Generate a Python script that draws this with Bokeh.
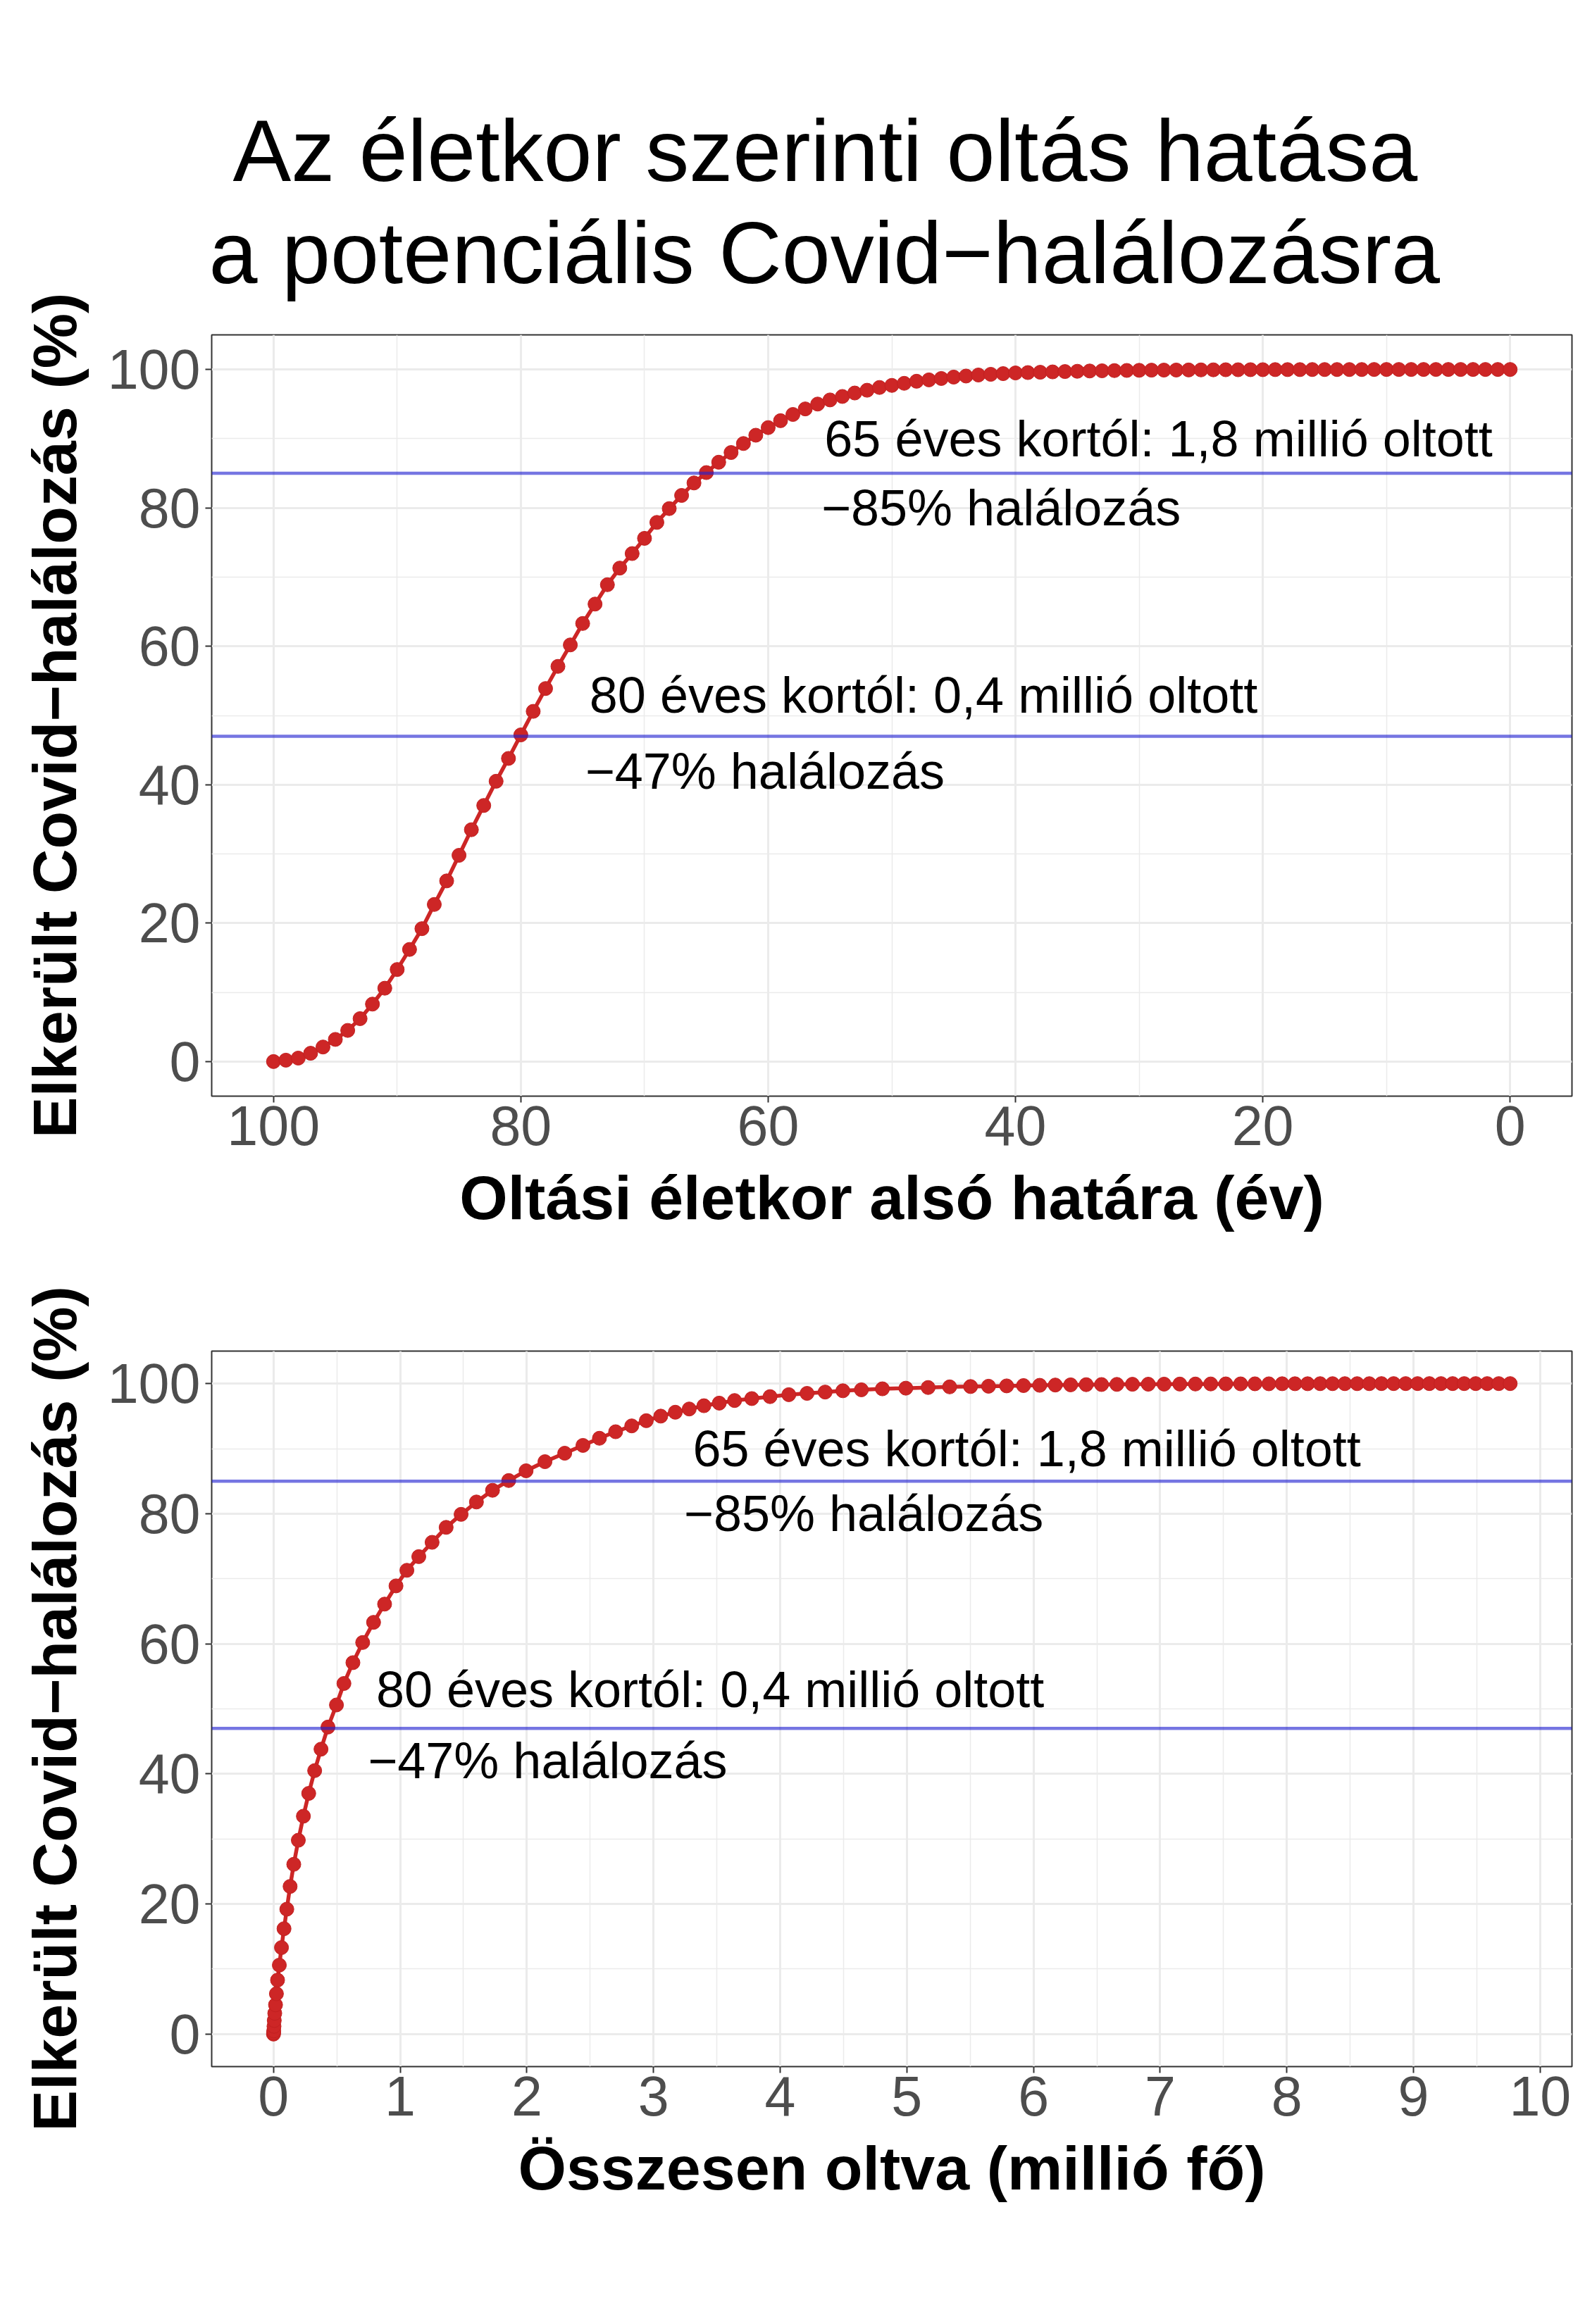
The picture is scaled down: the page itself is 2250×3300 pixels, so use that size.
from bokeh.plotting import figure
from bokeh.models import Range1d, Span, Title, FixedTicker, Label
from bokeh.layouts import column
from bokeh.embed import file_html
from bokeh.resources import INLINE

# ---------------- data ----------------
ages = list(range(100, -1, -1))  # lower age limit of vaccination, 100 .. 0

avoided_pct = [
    0.0, 0.2, 0.5, 1.2, 2.1, 3.2, 4.5, 6.2, 8.3, 10.6,            # 100..91
    13.3, 16.2, 19.2, 22.7, 26.1, 29.8, 33.5, 37.0, 40.5, 43.8,   # 90..81
    47.2, 50.6, 53.9, 57.1, 60.2, 63.3, 66.1, 68.9, 71.3, 73.4,   # 80..71
    75.6, 77.9, 79.9, 81.8, 83.6, 85.1, 86.6, 88.0, 89.3, 90.5,   # 70..61
    91.6, 92.6, 93.5, 94.3, 95.0, 95.6, 96.1, 96.6, 97.0, 97.4,   # 60..51
    97.7, 98.0, 98.3, 98.5, 98.7, 98.9, 99.05, 99.2, 99.3, 99.4,  # 50..41
    99.5, 99.55, 99.6, 99.65, 99.7, 99.74, 99.78, 99.81, 99.84, 99.86,  # 40..31
    99.88, 99.9, 99.91, 99.92, 99.93, 99.94, 99.95, 99.96, 99.96, 99.97,  # 30..21
    99.97, 99.98, 99.98, 99.98, 99.99, 99.99, 99.99, 99.99, 99.99, 100.0,  # 20..11
    100.0, 100.0, 100.0, 100.0, 100.0, 100.0, 100.0, 100.0, 100.0, 100.0,  # 10..1
    100.0,                                                         # 0
]

vaccinated_mln = [
    0.000, 0.001, 0.002, 0.004, 0.006, 0.010, 0.016, 0.023, 0.032, 0.046,  # 100..91
    0.063, 0.083, 0.105, 0.131, 0.160, 0.196, 0.236, 0.278, 0.325, 0.375,  # 90..81
    0.430, 0.497, 0.556, 0.627, 0.704, 0.790, 0.877, 0.967, 1.053, 1.147,  # 80..71
    1.252, 1.363, 1.481, 1.602, 1.729, 1.857, 1.994, 2.143, 2.299, 2.443,  # 70..61
    2.573, 2.701, 2.828, 2.943, 3.057, 3.172, 3.282, 3.398, 3.519, 3.640,  # 60..51
    3.776, 3.920, 4.068, 4.212, 4.355, 4.495, 4.641, 4.807, 4.992, 5.168,  # 50..41
    5.338, 5.503, 5.645, 5.788, 5.921, 6.049, 6.172, 6.293, 6.416, 6.537,  # 40..31
    6.658, 6.781, 6.906, 7.031, 7.155, 7.278, 7.399, 7.518, 7.635, 7.748,  # 30..21
    7.858, 7.963, 8.064, 8.164, 8.263, 8.361, 8.458, 8.555, 8.651, 8.747,  # 20..11
    8.843, 8.938, 9.032, 9.125, 9.217, 9.309, 9.400, 9.491, 9.582, 9.673,  # 10..1
    9.763,                                                                  # 0
]

reference_levels = [85, 47]

y_ticks = [0, 20, 40, 60, 80, 100]
y_minor = [10, 30, 50, 70, 90]
age_ticks = [100, 80, 60, 40, 20, 0]
age_minor = [90, 70, 50, 30, 10]
mln_ticks = [0, 1, 2, 3, 4, 5, 6, 7, 8, 9, 10]
mln_minor = [0.5, 1.5, 2.5, 3.5, 4.5, 5.5, 6.5, 7.5, 8.5, 9.5]

title_line1 = "Az életkor szerinti oltás hatása"
title_line2 = "a potenciális Covid\u2212halálozásra"
y_label = "Elkerült Covid\u2212halálozás (%)"
x_label_top = "Oltási életkor alsó határa (év)"
x_label_bottom = "Összesen oltva (millió fő)"
note65 = "65 éves kortól: 1,8 millió oltott"
note65b = "\u221285% halálozás"
note80 = "80 éves kortól: 0,4 millió oltott"
note80b = "\u221247% halálozás"

# ---------------- styling ----------------
FONT = "Liberation Sans"
RED = "#CD2626"
BLUE = "#2020D0"
GRID = "#EBEBEB"


def style(p, xt, xm, xlabel):
    p.background_fill_color = "white"
    p.border_fill_color = "white"
    p.outline_line_color = "#333333"
    p.outline_line_width = 2
    p.xaxis.ticker = FixedTicker(ticks=xt, minor_ticks=xm)
    p.yaxis.ticker = FixedTicker(ticks=y_ticks, minor_ticks=y_minor)
    p.xaxis.axis_label = xlabel
    p.yaxis.axis_label = y_label
    for ax in (p.xaxis[0], p.yaxis[0]):
        ax.axis_line_color = None
        ax.major_tick_line_color = "#333333"
        ax.major_tick_line_width = 2
        ax.major_tick_out = 9
        ax.major_tick_in = 0
        ax.minor_tick_line_color = None
        ax.major_label_text_font = FONT
        ax.major_label_text_font_size = "79px"
        ax.major_label_text_color = "#4D4D4D"
        ax.axis_label_text_font = FONT
        ax.axis_label_text_font_size = "88px"
        ax.axis_label_text_font_style = "bold"
        ax.axis_label_text_color = "black"
    p.xaxis.major_label_standoff = 5
    p.xaxis.axis_label_standoff = 22
    p.yaxis.major_label_standoff = 7
    p.yaxis.axis_label_standoff = 23
    for g in (p.xgrid[0], p.ygrid[0]):
        g.grid_line_color = GRID
        g.grid_line_width = 3
        g.minor_grid_line_color = GRID
        g.minor_grid_line_width = 1.5


def note(p, x, y, text):
    p.add_layout(Label(x=x, y=y, text=text, text_font=FONT, text_font_size="72px",
                       text_color="black", text_align="left", text_baseline="middle"))


def draw(p, xs):
    p.line(xs, avoided_pct, line_color=RED, line_width=5.5)
    p.scatter(xs, avoided_pct, size=20, fill_color=RED, line_color="#C22020", line_width=1)
    for lvl in reference_levels:
        p.add_layout(Span(location=lvl, dimension="width", line_color=BLUE,
                          line_alpha=0.62, line_width=4.5))


# ---------------- top panel: by age ----------------
p1 = figure(frame_width=1931, frame_height=1081,
            min_border_left=300, min_border_right=3,
            min_border_top=475, min_border_bottom=224,
            x_range=Range1d(105, -5), y_range=Range1d(-5, 105),
            output_backend="svg", toolbar_location=None)
style(p1, age_ticks, age_minor, x_label_top)
draw(p1, ages)
note(p1, 55.45, 90, note65)
note(p1, 55.7, 80, note65b)
note(p1, 74.45, 53, note80)
note(p1, 74.8, 42, note80b)

t2 = Title(text=title_line2, align="left", offset=-4, standoff=96,
           text_font=FONT, text_font_size="124px", text_font_style="normal",
           text_color="black")
t1 = Title(text=title_line1, align="left", offset=30, standoff=-86,
           text_font=FONT, text_font_size="124px", text_font_style="normal",
           text_color="black")
p1.add_layout(t2, "above")
p1.add_layout(t1, "above")

# ---------------- bottom panel: by number vaccinated ----------------
p2 = figure(frame_width=1931, frame_height=1016,
            min_border_left=300, min_border_right=3,
            min_border_top=138, min_border_bottom=240,
            x_range=Range1d(-0.488, 10.251), y_range=Range1d(-5, 105),
            output_backend="svg", toolbar_location=None)
style(p2, mln_ticks, mln_minor, x_label_bottom)
draw(p2, vaccinated_mln)
note(p2, 3.31, 90, note65)
note(p2, 3.24, 80, note65b)
note(p2, 0.81, 53, note80)
note(p2, 0.745, 42, note80b)

layout = column(p1, p2)
open("out.html", "w").write(file_html(layout, INLINE))
